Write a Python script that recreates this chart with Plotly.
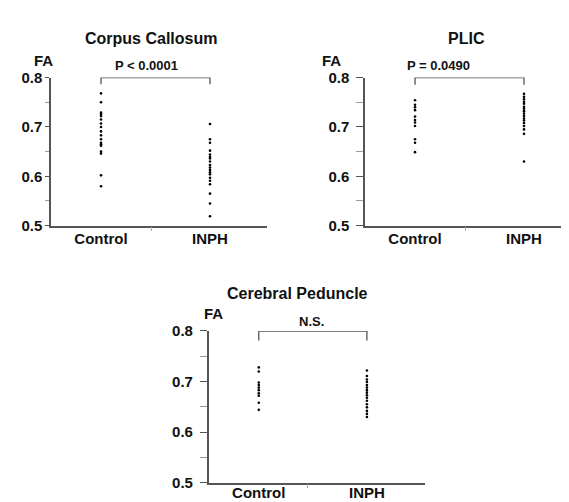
import plotly.graph_objects as go

categories = ["Control", "INPH"]

cc_control = [0.768, 0.750, 0.729, 0.726, 0.722, 0.715, 0.707, 0.700, 0.691, 0.683,
              0.675, 0.668, 0.665, 0.662, 0.650, 0.646, 0.602, 0.580]
cc_inph = [0.706, 0.675, 0.668, 0.652, 0.644, 0.639, 0.636, 0.630, 0.623, 0.618,
           0.613, 0.608, 0.604, 0.597, 0.591, 0.584, 0.565, 0.545, 0.519]

plic_control = [0.754, 0.745, 0.740, 0.734, 0.721, 0.714, 0.709, 0.702, 0.675, 0.668, 0.649]
plic_inph = [0.767, 0.761, 0.756, 0.751, 0.747, 0.741, 0.737, 0.732, 0.727, 0.722,
             0.717, 0.713, 0.708, 0.702, 0.695, 0.686, 0.630]

cp_control = [0.728, 0.720, 0.698, 0.693, 0.688, 0.683, 0.677, 0.672, 0.658, 0.644]
cp_inph = [0.722, 0.711, 0.704, 0.699, 0.693, 0.688, 0.683, 0.678, 0.673, 0.668,
           0.662, 0.655, 0.649, 0.642, 0.636, 0.630]

panel_titles = ["Corpus Callosum", "PLIC", "Cerebral Peduncle"]
p_labels = ["P < 0.0001", "P = 0.0490", "N.S."]
y_ticks = [0.5, 0.6, 0.7, 0.8]
y_tick_text = ["0.5", "0.6", "0.7", "0.8"]

FONT = "Liberation Sans, Arial, Helvetica, sans-serif"
AX = "#555555"
TXT = "#111111"
W, H = 569, 502

panels = [
    dict(data=(cc_control, cc_inph), px=(43, 259), py=(62.7, 216), xr=(-0.459, 1.523), mid=0.459,
         title_xy=(143, 22), fa_xy=(35, 45), p_xy=(138, 50), br_drop=0.0136, tl=4, so=0, xso=-1),
    dict(data=(plic_control, plic_inph), px=(357, 568), py=(62.7, 216), xr=(-0.459, 1.477), mid=0.459,
         title_xy=(458, 22), fa_xy=(323, 45), p_xy=(430, 50), br_drop=0.0145, tl=7, so=4, xso=-1),
    dict(data=(cp_control, cp_inph), px=(200.7, 417), py=(325, 482), xr=(-0.463, 1.537), mid=0.454,
         title_xy=(289, 286), fa_xy=(205, 307), p_xy=(303, 315), br_drop=0.019, tl=7, so=4, xso=-4),
]

fig = go.Figure()
layout = dict(width=W, height=H, margin=dict(l=0, r=0, t=0, b=0),
              paper_bgcolor="white", plot_bgcolor="white", showlegend=False,
              font=dict(family=FONT, color=TXT))
annotations = []
shapes = []

for i, p in enumerate(panels):
    n = "" if i == 0 else str(i + 1)
    xa, ya = "x" + n, "y" + n
    ctrl, inph = p["data"]
    xs = [0] * len(ctrl) + [1] * len(inph)
    ys = list(ctrl) + list(inph)
    fig.add_trace(go.Scatter(x=xs, y=ys, mode="markers", xaxis=xa, yaxis=ya,
                             marker=dict(size=2.6, color="black", symbol="circle")))
    layout["xaxis" + n] = dict(
        domain=[p["px"][0] / W, p["px"][1] / W], anchor=ya, range=list(p["xr"]),
        showgrid=False, zeroline=False, showline=True, linecolor=AX, linewidth=1.5,
        tickmode="array", tickvals=[0, 1], ticktext=["<b>%s</b>" % c for c in categories],
        ticks="", ticklabelstandoff=p["xso"],
        tickfont=dict(size=15, family=FONT, color=TXT),
        minor=dict(tickmode="array", tickvals=[p["mid"]], ticks="outside", ticklen=4,
                   tickcolor="#aaaaaa", showgrid=False),
    )
    layout["yaxis" + n] = dict(
        domain=[1 - p["py"][1] / H, 1 - p["py"][0] / H], anchor=xa, range=[0.5, 0.8],
        showgrid=False, zeroline=False, showline=True, linecolor=AX, linewidth=1.5,
        tickmode="array", tickvals=y_ticks, ticktext=["<b>%s</b>" % t for t in y_tick_text],
        ticks="outside", ticklen=p["tl"], tickcolor=AX, tickwidth=1,
        ticklabelstandoff=p["so"],
        tickfont=dict(size=15, family=FONT, color=TXT),
        minor=dict(dtick=0.05, tick0=0.5, ticks="outside", ticklen=p["tl"], tickcolor="#999999",
                   showgrid=False),
    )

    tx, ty = p["title_xy"]
    annotations.append(dict(text="<b>%s</b>" % panel_titles[i], x=tx / W, y=1 - ty / H,
                            xref="paper", yref="paper", showarrow=False,
                            xanchor="center", yanchor="middle",
                            font=dict(size=16, family=FONT, color=TXT)))
    fx, fy = p["fa_xy"]
    annotations.append(dict(text="<b>FA</b>", x=fx / W, y=1 - fy / H,
                            xref="paper", yref="paper", showarrow=False,
                            xanchor="center", yanchor="middle",
                            font=dict(size=15, family=FONT, color=TXT)))
    sx, sy = p["p_xy"]
    annotations.append(dict(text="<b>%s</b>" % p_labels[i], x=sx / W, y=1 - sy / H,
                            xref="paper", yref="paper", showarrow=False,
                            xanchor="center", yanchor="middle",
                            font=dict(size=13, family=FONT, color=TXT)))
    top = 0.8
    bot = top - p["br_drop"]
    shapes.append(dict(type="path", xref=xa, yref=ya,
                       path="M 0 %f L 0 %f L 1 %f L 1 %f" % (bot, top, top, bot),
                       line=dict(color=AX, width=1.3)))

layout["annotations"] = annotations
layout["shapes"] = shapes
fig.update_layout(**layout)
fig.write_html("out.html")
